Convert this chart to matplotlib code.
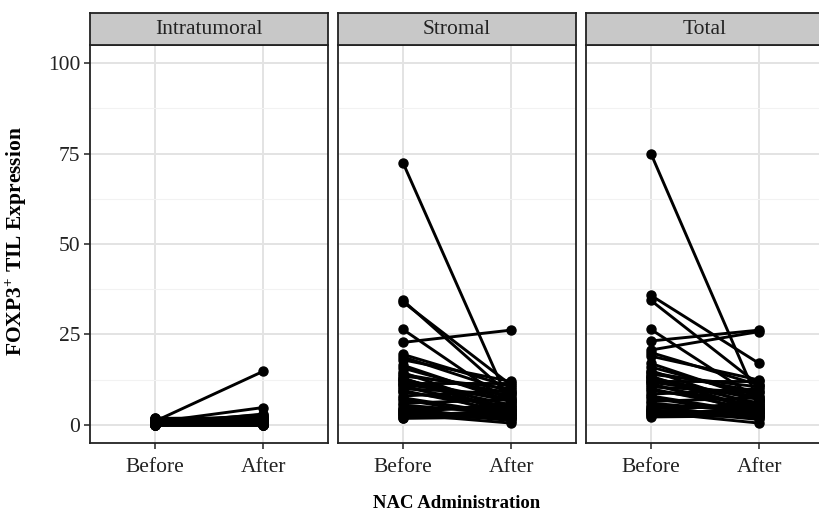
import matplotlib
matplotlib.use("Agg")
import matplotlib.pyplot as plt
from matplotlib.ticker import FixedLocator

plt.rcParams['font.family'] = ['Liberation Serif', 'DejaVu Serif']
plt.rcParams['mathtext.fontset'] = 'custom'
plt.rcParams['mathtext.rm'] = 'Liberation Serif'
plt.rcParams['mathtext.bf'] = 'Liberation Serif:bold'

panels = ["Intratumoral", "Stromal", "Total"]
timepoints = ["Before", "After"]

intra_before = [1.0, 0.5, 1.0, 0.3, 2.0, 0.8, 1.2, 0.2, 0.5, 1.8, 0.0, 0.6, 1.1, 0.4, 0.2,
                0.9, 0.3, 1.4, 0.7, 0.1, 0.0, 0.5, 1.0, 0.2, 0.3, 0.6, 0.0, 0.4, 0.8, 0.1,
                1.5, 0.2, 0.7, 1.3, 0.0, 0.4, 0.9, 1.6, 0.3, 0.1]
intra_after = [14.8, 0.5, 1.0, 2.5, 0.2, 4.8, 0.8, 1.5, 0.3, 2.0, 0.0, 0.6, 1.2, 0.4, 3.0,
               0.7, 0.1, 1.8, 0.9, 0.0, 0.3, 1.1, 0.5, 2.2, 0.2, 0.0, 0.8, 1.3, 0.4, 0.6,
               1.0, 0.2, 2.8, 0.5, 1.6, 0.1, 0.9, 0.3, 1.4, 0.0]

stromal_before = [72.5, 34.4, 34.0, 26.4, 22.8, 18.8, 18.0, 15.7, 14.5, 13.5, 13.0, 12.5, 12.0, 11.5, 11.0,
                  10.5, 10.0, 9.5, 8.0, 7.0, 6.0, 5.5, 4.5, 4.0, 3.5, 3.0, 2.5, 2.0, 1.8, 3.2,
                  19.5, 16.5, 14.0, 12.8, 11.2, 9.0, 7.5, 4.8, 3.8, 2.8]
stromal_after = [5.0, 8.0, 11.0, 6.0, 26.2, 9.0, 12.0, 7.5, 4.0, 10.0, 3.0, 6.5, 5.5, 11.5, 2.5,
                 4.5, 8.5, 3.5, 9.5, 2.0, 7.0, 3.0, 1.5, 5.0, 2.0, 0.5, 4.0, 3.0, 2.2, 6.0,
                 10.5, 6.5, 8.8, 3.8, 7.2, 5.2, 2.8, 4.2, 1.2, 3.5]

total_before = [75.0, 35.8, 34.4, 26.4, 23.2, 20.7, 19.0, 16.0, 15.0, 14.0, 13.5, 13.0, 12.5, 12.0, 11.5,
                11.0, 10.5, 10.0, 8.5, 7.5, 6.5, 6.0, 5.0, 4.5, 4.0, 3.5, 3.0, 2.5, 2.2, 3.5,
                20.0, 17.0, 14.5, 13.2, 11.8, 9.5, 8.0, 5.2, 4.2, 3.0]
total_after = [6.0, 17.0, 11.0, 7.0, 26.2, 25.8, 12.4, 8.0, 5.0, 10.5, 3.5, 7.0, 6.0, 12.0, 3.0,
               5.0, 9.0, 4.0, 10.0, 2.5, 7.5, 3.5, 2.0, 5.5, 2.5, 0.5, 4.5, 3.5, 2.5, 6.5,
               11.0, 7.0, 9.2, 4.2, 7.8, 5.6, 3.2, 4.6, 1.5, 3.8]

series = [(intra_before, intra_after), (stromal_before, stromal_after), (total_before, total_after)]

W, H = 819, 513
fig = plt.figure(figsize=(W / 100, H / 100), dpi=100)

lefts = [90, 338, 586]
pw = 238
bottom, top, strip_top = 443, 45, 13

for i, (name, (b, a)) in enumerate(zip(panels, series)):
    ax = fig.add_axes([lefts[i] / W, 1 - bottom / H, pw / W, (bottom - top) / H])
    xs = [1, 2]
    for yb, ya in zip(b, a):
        ax.plot(xs, [yb, ya], color='black', lw=2.1, marker='o', ms=6.5,
                solid_capstyle='round', zorder=3)
    ax.set_xlim(0.4, 2.6)
    ax.set_ylim(-5, 105)
    ax.xaxis.set_major_locator(FixedLocator([1, 2]))
    ax.set_xticklabels(timepoints)
    ax.yaxis.set_major_locator(FixedLocator([0, 25, 50, 75, 100]))
    ax.yaxis.set_minor_locator(FixedLocator([12.5, 37.5, 62.5, 87.5]))
    ax.grid(True, which='major', color='#E3E3E3', lw=1.4, zorder=0)
    ax.grid(True, which='minor', axis='y', color='#F2F2F2', lw=0.8, zorder=0)
    ax.set_axisbelow(True)
    for s in ax.spines.values():
        s.set_color('#222222')
        s.set_linewidth(1.3)
    ax.tick_params(axis='both', which='major', length=4, width=1.2, color='#333333',
                   labelsize=15.5, labelcolor='#222222')
    ax.tick_params(axis='x', which='major', pad=7)
    ax.tick_params(axis='y', which='major', pad=3)
    ax.tick_params(axis='y', which='minor', length=0)
    if i > 0:
        ax.tick_params(axis='y', which='major', labelleft=False, left=False)
    # strip
    sax = fig.add_axes([lefts[i] / W, 1 - top / H, pw / W, (top - strip_top) / H])
    sax.set_facecolor('#C8C8C8')
    sax.set_xticks([])
    sax.set_yticks([])
    for s in sax.spines.values():
        s.set_color('#222222')
        s.set_linewidth(1.3)
    sax.text(0.5, 0.5, name, ha='center', va='center', fontsize=15.5, color='#222222',
             transform=sax.transAxes)

fig.text((338 + 238 / 2) / W, 1 - 504 / H, "NAC Administration", ha='center', va='center',
         fontsize=13.5, fontweight='bold')
fig.text(16 / W, 1 - 241 / H, r"FOXP3$^{\mathbf{+}}$ TIL Expression",
         ha='center', va='center', rotation=90, fontsize=15.5, fontweight='bold')

fig.savefig("out.png", dpi=100)
